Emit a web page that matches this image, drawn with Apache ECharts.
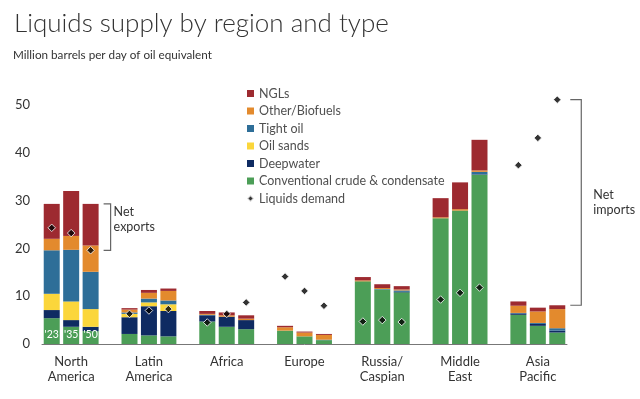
<!DOCTYPE html>
<html>
<head>
<meta charset="utf-8">
<script src="https://cdn.jsdelivr.net/npm/echarts@6/dist/echarts.min.js"></script>
<style>html,body{margin:0;padding:0;background:#fff;}#c{width:640px;height:399px;}</style>
</head>
<body>
<div id="c"></div>
<script>
// Regions (categories) and years
const regions = ['North\nAmerica', 'Latin\nAmerica', 'Africa', 'Europe', 'Russia/\nCaspian', 'Middle\nEast', 'Asia\nPacific'];
const years = ["'23", "'35", "'50"];

// Values per layer, ordered region by region, years '23, '35, '50
const conventional = [5.4, 3.6, 2.7,  2.1, 1.8, 1.6,  4.7, 3.6, 3.1,  2.8, 1.6, 0.8,  13.1, 11.4, 10.8,  26.3, 27.9, 35.4,  6.1, 3.8, 2.4];
const deepwater    = [1.7, 1.4, 0.9,  3.5, 6.1, 5.3,  1.3, 2.1, 1.9,  0.0, 0.0, 0.0,  0.0, 0.0, 0.1,    0.0, 0.0, 0.1,    0.3, 0.4, 0.4];
const oilSands     = [3.4, 3.9, 3.7,  0.7, 0.8, 1.4,  0.0, 0.0, 0.0,  0.0, 0.0, 0.0,  0.0, 0.0, 0.0,    0.0, 0.0, 0.0,    0.0, 0.0, 0.0];
const tightOil     = [9.1, 10.8, 7.8, 0.3, 0.8, 0.8,  0.1, 0.0, 0.0,  0.0, 0.0, 0.1,  0.0, 0.1, 0.3,    0.0, 0.0, 0.5,    0.1, 0.2, 0.5];
const otherBio     = [2.4, 2.9, 5.5,  0.6, 1.2, 2.0,  0.2, 0.3, 0.3,  0.7, 0.8, 1.0,  0.2, 0.2, 0.2,    0.2, 0.3, 0.3,    1.5, 2.4, 4.0];
const ngls         = [7.3, 9.4, 8.7,  0.3, 0.6, 0.5,  0.6, 0.6, 0.7,  0.3, 0.2, 0.2,  0.7, 0.8, 0.7,    4.0, 5.6, 6.4,    0.9, 0.8, 0.8];
const demand       = [24.3, 23.2, 19.6, 6.3, 7.0, 7.3, 4.5, 6.3, 8.7, 14.1, 11.1, 8.0, 4.7, 5.0, 4.6, 9.3, 10.7, 11.8, 37.4, 43.1, 51.1];

// Y-axis ticks
const yTicks = [0, 10, 20, 30, 40, 50];

const layerNames = ['Conventional crude & condensate', 'Deepwater', 'Oil sands', 'Tight oil', 'Other/Biofuels', 'NGLs'];
const layerValues = [conventional, deepwater, oilSands, tightOil, otherBio, ngls];
const layerColors = ['#4c9e57', '#0f2b62', '#fbd63b', '#2e6e98', '#e38a2d', '#9d2a30'];

const FONT = 'Lato, "Open Sans", sans-serif';

// Category slots: three bars per region plus an empty spacer slot between regions
const slotCount = regions.length * 4 - 1;
const slotOf = i => Math.floor(i / 3) * 4 + (i % 3);
const categories = [];
for (let s = 0; s < slotCount; s++) {
  categories.push(s % 4 === 1 ? regions[Math.floor(s / 4)] : ' ' + s);
}
function toSlots(arr, mapItem) {
  const out = new Array(slotCount).fill('-');
  arr.forEach((v, i) => { out[slotOf(i)] = mapItem ? mapItem(v, i) : v; });
  return out;
}

const series = layerNames.map((name, li) => ({
  name: name,
  type: 'bar',
  stack: 'supply',
  barWidth: 16,
  itemStyle: { color: layerColors[li] },
  data: toSlots(layerValues[li], (v, i) => {
    const item = { value: v };
    if (li === 0 && i < 3) {
      item.label = {
        show: true, position: 'insideBottom', distance: 4,
        formatter: years[i], color: '#fff', fontSize: 10.5, fontFamily: FONT
      };
    }
    return item;
  })
}));

series.push({
  name: 'Liquids demand',
  type: 'scatter',
  symbol: 'diamond',
  symbolSize: 7.5,
  z: 10,
  itemStyle: { color: '#000', borderColor: '#fff', borderWidth: 1 },
  data: toSlots(demand)
});

const legendOrder = ['NGLs', 'Other/Biofuels', 'Tight oil', 'Oil sands', 'Deepwater', 'Conventional crude & condensate', 'Liquids demand'];

const chart = echarts.init(document.getElementById('c'), null, { renderer: 'canvas' });
const option = {
  animation: false,
  backgroundColor: '#fff',
  title: [
    { text: 'Liquids supply by region and type', left: 9, top: 6,
      textStyle: { fontFamily: FONT, fontSize: 26, fontWeight: 300, color: '#333' } },
    { text: 'Million barrels per day of oil equivalent', left: 8, top: 44,
      textStyle: { fontFamily: FONT, fontSize: 11.7, fontWeight: 'normal', color: '#333' } }
  ],
  legend: {
    orient: 'vertical', left: 241, top: 81.5,
    itemWidth: 7, itemHeight: 7, itemGap: 3.5,
    textStyle: { fontFamily: FONT, fontSize: 12.5, color: '#505050', lineHeight: 14 },
    data: legendOrder.map(n => ({ name: n, icon: n === 'Liquids demand' ? 'diamond' : 'rect' })),
    selectedMode: false
  },
  grid: { left: 42, right: 73, top: 81, bottom: 55 },
  xAxis: {
    type: 'category', data: categories,
    axisTick: { show: false },
    axisLine: { show: true, lineStyle: { color: '#777', width: 1 } },
    axisLabel: {
      interval: 0,
      formatter: v => (v.charAt(0) === ' ' ? '' : v),
      fontFamily: FONT, fontSize: 13, color: '#333', lineHeight: 15, margin: 10
    }
  },
  yAxis: {
    type: 'value', min: 0, max: 55, interval: 10,
    splitLine: { show: false },
    axisLine: { show: false },
    axisTick: { show: false },
    axisLabel: {
      customValues: yTicks,
      formatter: v => String(v),
      fontFamily: FONT, fontSize: 13, color: '#333', margin: 12
    }
  },
  series: series
};
chart.setOption(option);

// Bracket annotations computed through the chart's own scales
function px(i, y) { return chart.convertToPixel({ gridIndex: 0 }, [slotOf(i), y]); }
function bracket(barIdx, topVal, botVal, gapPx, tickLen, text, textTop) {
  const edge = px(barIdx, 0)[0] + 8 + gapPx;
  const yTop = px(barIdx, topVal)[1];
  const yBot = px(barIdx, botVal)[1];
  const xr = edge + tickLen;
  return [{
    type: 'polyline',
    shape: { points: [[edge, yTop], [xr, yTop], [xr, yBot], [edge, yBot]] },
    style: { stroke: '#666', lineWidth: 1.2, fill: null },
    silent: true
  }, {
    type: 'text',
    x: xr + (textTop ? 3 : 12),
    y: textTop ? yTop + 1 : (yTop + yBot) / 2,
    style: {
      text: text, fontFamily: FONT, fontSize: 12.5, fill: '#333', lineHeight: 15,
      verticalAlign: textTop ? 'top' : 'middle'
    },
    silent: true
  }];
}
const total = i => layerValues.reduce((s, arr) => s + arr[i], 0);
const graphics = []
  .concat(bracket(2, total(2), demand[2], 5, 7, 'Net\nexports', true))
  .concat(bracket(20, demand[20], total(20), 5, 11, 'Net\nimports', false));
chart.setOption({ graphic: graphics });
</script>
</body>
</html>
